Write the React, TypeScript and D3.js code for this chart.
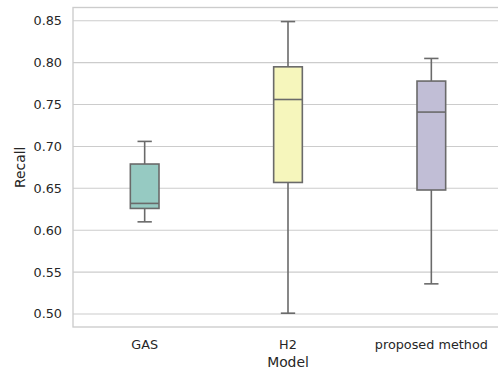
import * as d3 from 'd3'

const models = ['GAS', 'H2', 'proposed method']
const whiskerLow = [0.61, 0.501, 0.536]
const q1 = [0.626, 0.657, 0.648]
const median = [0.632, 0.756, 0.741]
const q3 = [0.679, 0.795, 0.778]
const whiskerHigh = [0.706, 0.849, 0.805]
const fills = ['#96cac2', '#f6f6bc', '#c1bed6']
const yTicks = [0.5, 0.55, 0.6, 0.65, 0.7, 0.75, 0.8, 0.85]

const width = 498
const height = 374
const margin = { top: 7.5, right: -5, bottom: 47, left: 73 }
const edge = '#6a6a6a'
const textColor = '#262626'
const font = '"DejaVu Sans", sans-serif'

export default function App() {
  const innerW = width - margin.left - margin.right
  const innerH = height - margin.top - margin.bottom

  const x = d3.scaleBand().domain(models).range([0, innerW])
  const y = d3.scaleLinear().domain([0.4845, 0.8658]).range([innerH, 0])

  const boxW = x.bandwidth() * 0.2
  const capW = boxW / 2

  const boxes = models.map((m, i) => ({
    model: m,
    cx: (x(m) ?? 0) + x.bandwidth() / 2,
    lo: whiskerLow[i],
    q1: q1[i],
    med: median[i],
    q3: q3[i],
    hi: whiskerHigh[i],
    fill: fills[i],
  }))

  return (
    <div style={{ position: 'fixed', left: 0, top: 0, width, height, background: '#fff' }}>
      <svg width={width} height={height} style={{ display: 'block' }}>
        <rect width={width} height={height} fill="#fff" />
        <g transform={`translate(${margin.left},${margin.top})`}>
          {yTicks.map(t => (
            <line key={t} x1={0} x2={innerW} y1={y(t)} y2={y(t)} stroke="#cccccc" strokeWidth={1.1} />
          ))}
          <rect x={0} y={0} width={innerW} height={innerH} fill="none" stroke="#cccccc" strokeWidth={1.35} />

          {boxes.map(b => (
            <g key={b.model} stroke={edge} strokeWidth={1.6} strokeLinecap="butt">
              <line x1={b.cx} x2={b.cx} y1={y(b.q3)} y2={y(b.hi)} />
              <line x1={b.cx} x2={b.cx} y1={y(b.q1)} y2={y(b.lo)} />
              <line x1={b.cx - capW / 2} x2={b.cx + capW / 2} y1={y(b.hi)} y2={y(b.hi)} />
              <line x1={b.cx - capW / 2} x2={b.cx + capW / 2} y1={y(b.lo)} y2={y(b.lo)} />
              <rect x={b.cx - boxW / 2} y={y(b.q3)} width={boxW} height={y(b.q1) - y(b.q3)} fill={b.fill} />
              <line x1={b.cx - boxW / 2} x2={b.cx + boxW / 2} y1={y(b.med)} y2={y(b.med)} />
            </g>
          ))}

          {yTicks.map(t => (
            <text key={t} x={-11} y={y(t)} dy="0.35em" textAnchor="end" fill={textColor} fontFamily={font} fontSize={12.8}>
              {d3.format('.2f')(t)}
            </text>
          ))}

          {boxes.map(b => (
            <text key={b.model} x={b.cx} y={innerH + 22} textAnchor="middle" fill={textColor} fontFamily={font} fontSize={12.8}>
              {b.model}
            </text>
          ))}

          <text x={innerW / 2} y={innerH + 40} textAnchor="middle" fill={textColor} fontFamily={font} fontSize={13.9}>
            Model
          </text>
          <text transform={`translate(${-48},${innerH / 2}) rotate(-90)`} textAnchor="middle" fill={textColor} fontFamily={font} fontSize={13.9}>
            Recall
          </text>
        </g>
      </svg>
    </div>
  )
}
